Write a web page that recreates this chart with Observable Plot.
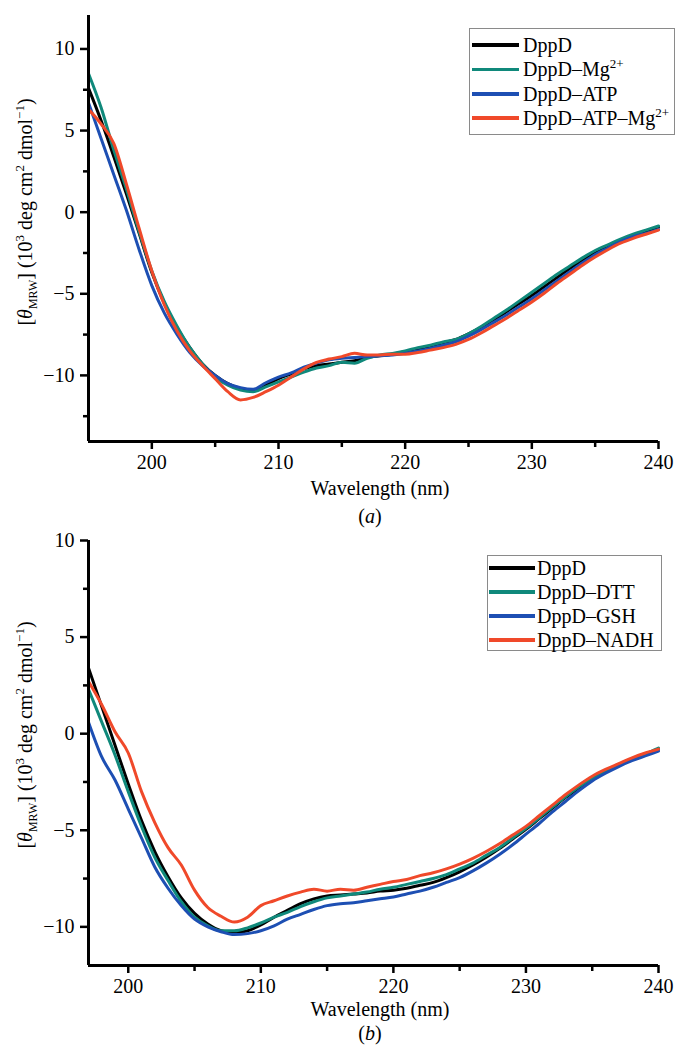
<!DOCTYPE html>
<html>
<head>
<meta charset="utf-8">
<script src="https://cdn.jsdelivr.net/npm/d3@7"></script>
<script src="https://cdn.jsdelivr.net/npm/@observablehq/plot@0.6"></script>
<style>
  body { margin: 0; background: #fff; }
  #fig { position: relative; width: 675px; height: 1047px; overflow: hidden; background: #fff;
         font-family: "Liberation Serif", "Times New Roman", serif; color: #000; }
  .panel { position: absolute; left: 0; }
  .lab { position: absolute; font-size: 20px; white-space: nowrap; line-height: 1; transform: translate(-50%, -50%); }
  .ytitle { position: absolute; font-size: 20px; white-space: nowrap; line-height: 1; transform: translate(-50%, -50%) rotate(-90deg); }
  .legend { position: absolute; border: 1px solid #8a8a8a; background: #fff; box-sizing: border-box; }
  .row { position: absolute; height: 24px; display: flex; align-items: center; font-size: 20px; white-space: nowrap; line-height: 1; }
  .sw { display: inline-block; height: 3.5px; }
  .sup { font-size: 13px; position: relative; top: -8px; }
  .sub { font-size: 12px; position: relative; top: 5px; }
</style>
</head>
<body>
<div id="fig"></div>
<script>
// ---------- data: panel (a) ----------
const wavelengthsA = [195,196,197,198,199,200,201,202,203,204,205,206,207,208,209,210,211,212,213,214,215,216,217,218,219,220,221,222,223,224,225,226,227,228,229,230,231,232,233,234,235,236,237,238,239,240];
const dppdA =      [7.6,5.6,3.4,1.1,-1.3,-3.7,-5.6,-7.1,-8.3,-9.3,-10.0,-10.5,-10.8,-10.9,-10.6,-10.2,-9.9,-9.6,-9.4,-9.3,-9.2,-9.1,-8.9,-8.8,-8.7,-8.55,-8.4,-8.2,-8.0,-7.8,-7.45,-7.05,-6.6,-6.1,-5.6,-5.1,-4.55,-4.0,-3.45,-2.95,-2.5,-2.1,-1.75,-1.45,-1.2,-0.9];
const dppdMgA =    [8.5,6.4,3.8,1.4,-1.2,-3.6,-5.5,-7.0,-8.3,-9.3,-10.1,-10.6,-10.9,-11.0,-10.7,-10.4,-10.1,-9.8,-9.55,-9.4,-9.2,-9.25,-8.95,-8.75,-8.65,-8.5,-8.3,-8.15,-7.95,-7.8,-7.45,-7.0,-6.5,-6.0,-5.45,-4.9,-4.35,-3.8,-3.3,-2.8,-2.35,-2.0,-1.65,-1.35,-1.1,-0.85];
const dppdAtpA =   [6.7,4.5,2.3,0.1,-2.3,-4.5,-6.2,-7.5,-8.6,-9.4,-10.0,-10.5,-10.75,-10.85,-10.45,-10.1,-9.85,-9.5,-9.25,-9.05,-8.95,-8.9,-8.85,-8.8,-8.75,-8.65,-8.5,-8.35,-8.15,-7.95,-7.6,-7.2,-6.75,-6.3,-5.8,-5.3,-4.75,-4.2,-3.65,-3.1,-2.6,-2.2,-1.8,-1.5,-1.3,-1.05];
const dppdAtpMgA = [6.3,5.4,4.2,1.7,-1.0,-3.6,-5.7,-7.3,-8.5,-9.4,-10.2,-11.0,-11.5,-11.35,-11.0,-10.6,-10.1,-9.6,-9.2,-9.0,-8.85,-8.65,-8.75,-8.75,-8.7,-8.7,-8.6,-8.45,-8.3,-8.1,-7.8,-7.4,-6.95,-6.5,-6.0,-5.5,-4.95,-4.35,-3.8,-3.25,-2.75,-2.3,-1.9,-1.6,-1.35,-1.1];
const namesA = ["DppD", "DppD–Mg2+", "DppD–ATP", "DppD–ATP–Mg2+"];

// ---------- data: panel (b) ----------
const wavelengthsB = [197,198,199,200,201,202,203,204,205,206,207,208,209,210,211,212,213,214,215,216,217,218,219,220,221,222,223,224,225,226,227,228,229,230,231,232,233,234,235,236,237,238,239,240];
const dppdB =     [3.4,1.4,-0.6,-2.6,-4.5,-6.1,-7.4,-8.5,-9.3,-9.85,-10.2,-10.3,-10.2,-9.9,-9.5,-9.15,-8.8,-8.55,-8.4,-8.35,-8.3,-8.25,-8.15,-8.1,-8.0,-7.85,-7.7,-7.45,-7.15,-6.8,-6.4,-5.95,-5.45,-4.95,-4.4,-3.85,-3.3,-2.8,-2.3,-1.95,-1.6,-1.3,-1.05,-0.8];
const dppdDttB =  [2.3,0.6,-1.1,-3.0,-4.8,-6.4,-7.6,-8.7,-9.5,-9.95,-10.2,-10.2,-10.05,-9.8,-9.5,-9.25,-8.95,-8.7,-8.5,-8.4,-8.3,-8.2,-8.05,-7.95,-7.8,-7.65,-7.5,-7.3,-7.0,-6.7,-6.3,-5.9,-5.4,-4.9,-4.35,-3.8,-3.25,-2.75,-2.3,-1.95,-1.6,-1.3,-1.05,-0.75];
const dppdGshB =  [0.6,-1.2,-2.4,-3.9,-5.4,-6.9,-8.0,-8.9,-9.6,-10.0,-10.25,-10.4,-10.35,-10.2,-9.95,-9.6,-9.35,-9.1,-8.9,-8.8,-8.75,-8.65,-8.55,-8.45,-8.3,-8.15,-7.95,-7.7,-7.45,-7.1,-6.7,-6.25,-5.75,-5.2,-4.65,-4.05,-3.5,-2.95,-2.45,-2.05,-1.7,-1.4,-1.15,-0.9];
const dppdNadhB = [2.7,1.5,0.1,-1.0,-3.0,-4.6,-5.9,-6.8,-8.1,-9.0,-9.45,-9.75,-9.5,-8.9,-8.65,-8.4,-8.2,-8.05,-8.15,-8.05,-8.1,-7.95,-7.8,-7.65,-7.55,-7.35,-7.2,-7.0,-6.75,-6.45,-6.1,-5.7,-5.25,-4.8,-4.25,-3.7,-3.15,-2.65,-2.2,-1.85,-1.55,-1.25,-1.0,-0.8];
const namesB = ["DppD", "DppD–DTT", "DppD–GSH", "DppD–NADH"];

// ---------- ticks & colours ----------
const colors = ["#000000", "#10897b", "#1d4fb3", "#f0492a"];
const xMajorA = [200, 210, 220, 230, 240];
const xMinorA = [205, 215, 225, 235];
const yMajorA = [-10, -5, 0, 5, 10];
const yMinorA = [-12.5, -7.5, -2.5, 2.5, 7.5];
const xMajorB = [200, 210, 220, 230, 240];
const xMinorB = [205, 215, 225, 235];
const yMajorB = [-10, -5, 0, 5, 10];
const yMinorB = [-7.5, -2.5, 2.5, 7.5];
const xDomainA = [195, 240], yDomainA = [-14.05, 12.05];
const xDomainB = [197, 240], yDomainB = [-12, 10];

const fmt = d => d < 0 ? "\u2212" + Math.abs(d) : String(d);

function buildRows(wl, seriesList, names) {
  const rows = [];
  seriesList.forEach((vals, k) => vals.forEach((v, i) => rows.push({name: names[k], x: wl[i], y: v})));
  return rows;
}

function makePanel(cfg) {
  const rows = buildRows(cfg.wl, cfg.series, cfg.names);
  return Plot.plot({
    width: 675, height: 523,
    marginTop: cfg.marginTop, marginBottom: 82, marginLeft: 88, marginRight: 17,
    style: {fontFamily: "'Liberation Serif', 'Times New Roman', serif", fontSize: "20px", background: "white", color: "black", overflow: "visible"},
    x: {domain: cfg.xDomain},
    y: {domain: cfg.yDomain},
    color: {domain: cfg.names, range: colors},
    marks: [
      Plot.line(rows, {x: "x", y: "y", z: "name", stroke: "name", strokeWidth: 3, curve: "monotone-x"}),
      Plot.axisX(cfg.xMajor, {tickSize: 8, strokeWidth: 2.5, tickPadding: 5, tickFormat: d => String(d), label: null, fontSize: 20}),
      Plot.axisX(cfg.xMinor, {tickSize: 6, strokeWidth: 2.5, tickFormat: () => "", label: null}),
      Plot.axisY(cfg.yMajor, {tickSize: 8, strokeWidth: 2.5, tickPadding: 6, tickFormat: fmt, label: null, fontSize: 20}),
      Plot.axisY(cfg.yMinor, {tickSize: 5, strokeWidth: 2.5, tickFormat: () => "", label: null}),
      Plot.ruleX([cfg.xDomain[0]], {strokeWidth: 3}),
      Plot.ruleY([cfg.yDomain[0]], {strokeWidth: 3})
    ]
  });
}

const fig = document.getElementById("fig");

function addPanel(cfg, top) {
  const svg = makePanel(cfg);
  svg.classList.add("panel");
  svg.style.top = top + "px";
  fig.appendChild(svg);
}

addPanel({wl: wavelengthsA, series: [dppdA, dppdMgA, dppdAtpA, dppdAtpMgA], names: namesA,
          xDomain: xDomainA, yDomain: yDomainA, xMajor: xMajorA, xMinor: xMinorA,
          yMajor: yMajorA, yMinor: yMinorA, marginTop: 15}, 0);
addPanel({wl: wavelengthsB, series: [dppdB, dppdDttB, dppdGshB, dppdNadhB], names: namesB,
          xDomain: xDomainB, yDomain: yDomainB, xMajor: xMajorB, xMinor: xMinorB,
          yMajor: yMajorB, yMinor: yMinorB, marginTop: 16}, 524);

function addHTML(cls, html, left, top) {
  const d = document.createElement("div");
  d.className = cls;
  d.innerHTML = html;
  d.style.left = left + "px";
  d.style.top = top + "px";
  fig.appendChild(d);
  return d;
}

const yTitle = '[<i>θ</i><span class="sub">MRW</span>] (10<span class="sup">3</span> deg cm<span class="sup">2</span> dmol<span class="sup">\u22121</span>)';
addHTML("ytitle", yTitle, 25, 212);
addHTML("ytitle", yTitle, 25, 735);
addHTML("lab", "Wavelength (nm)", 380, 488);
addHTML("lab", "Wavelength (nm)", 380, 1009);
addHTML("lab", "(<i>a</i>)", 370, 516);
addHTML("lab", "(<i>b</i>)", 370, 1033);

function legendLabel(name) {
  return name.replace("2+", '<span class="sup">2+</span>');
}

function addLegend(names, box) {
  const lg = document.createElement("div");
  lg.className = "legend";
  Object.assign(lg.style, {left: box.left + "px", top: box.top + "px", width: box.width + "px", height: box.height + "px"});
  names.forEach((n, i) => {
    const r = document.createElement("div");
    r.className = "row";
    r.style.left = box.swLeft + "px";
    r.style.top = (box.firstRow + i * box.step - 12) + "px";
    r.innerHTML = `<span class="sw" style="width:${box.swWidth}px;background:${colors[i]}"></span><span style="margin-left:${box.gap}px">${legendLabel(n)}</span>`;
    lg.appendChild(r);
  });
  fig.appendChild(lg);
}

addLegend(namesA, {left: 469, top: 28, width: 206, height: 107, swLeft: 2, swWidth: 47, gap: 4, firstRow: 16, step: 24.4});
addLegend(namesB, {left: 487, top: 555, width: 175, height: 96, swLeft: 1, swWidth: 46, gap: 2, firstRow: 12, step: 24});
</script>
</body>
</html>
